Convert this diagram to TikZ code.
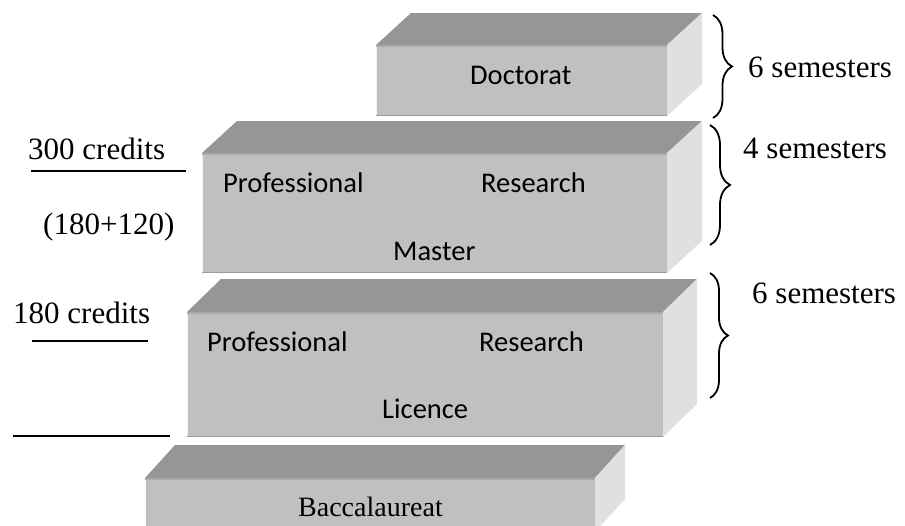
\documentclass[tikz,border=0pt]{standalone}
\usepackage{fontspec}
\setmainfont{Liberation Serif}
\newfontfamily\calib{Carlito}
\usetikzlibrary{decorations.pathreplacing}
\definecolor{topc}{HTML}{969696}
\definecolor{frontc}{HTML}{C0C0C0}
\definecolor{sidec}{HTML}{E0E0E0}
\definecolor{stripc}{HTML}{AAAAAA}
\definecolor{edgec}{HTML}{9C9C9C}
\newcommand\drawslab[6]{%
  \fill[topc] (#1,#2) -- ({#1+#5},{#2-#6}) -- ({#3+#5},{#2-#6}) -- (#3,#2) -- cycle;
  \fill[sidec] (#3,#2) -- ({#3+#5},{#2-#6}) -- ({#3+#5},{#4-#6}) -- (#3,#4) -- cycle;
  \fill[frontc] (#1,#2) rectangle (#3,#4);
  \draw[stripc, line width=2] (#1,{#2+1}) -- (#3,{#2+1});
  \draw[edgec, line width=1.5] (#1,{#4-0.75}) -- (#3,{#4-0.75});
  \draw[white!85!frontc, line width=1.2] ({#1+0.6},{#2+2}) -- ({#1+0.6},{#4-1.5});
}
\begin{document}
\begin{tikzpicture}[x=1pt,y=-1pt,
  boxtxt/.style={anchor=base west, inner sep=0pt, font=\calib\fontsize{28.5}{30}\selectfont},
  sidetxt/.style={anchor=base west, inner sep=0pt, font=\fontsize{31}{33}\selectfont},
  rule/.style={line width=1.5pt},
  bracestyle/.style={line width=1.8pt, decorate, decoration={brace, amplitude=#1}}]
\useasboundingbox (0,0) rectangle (905,525);
\fill[white] (0,0) rectangle (905,525);

\drawslab{376}{45}{667}{116}{35}{32}
\drawslab{202}{153}{667}{273}{35}{32}
\drawslab{187}{312}{663}{437}{34}{33}
\drawslab{145}{478}{595}{532}{30}{33}

\node[boxtxt] (doc) at (470,84) {Doctorat};
\node[boxtxt] (mprof) at (223,192) {Professional};
\node[boxtxt] (mres) at (481,192) {Research};
\node[boxtxt] (mast) at (393,260) {Master};
\node[boxtxt] (lprof) at (207,351) {Professional};
\node[boxtxt] (lres) at (479,351) {Research};
\node[boxtxt] (lic) at (382,418) {Licence};
\node[anchor=base west, inner sep=0pt, font=\fontsize{28}{30}\selectfont] (bac) at (298,516) {Baccalaureat};

\node[sidetxt] (c300) at (28,159) {300 credits};
\node[sidetxt] (c300b) at (43,234) {(180+120)};
\node[sidetxt] (c180) at (13,323) {180 credits};

\coordinate (l1a) at (31,171); \coordinate (l1b) at (186,171);
\coordinate (l2a) at (32,341); \coordinate (l2b) at (148,341);
\coordinate (l3a) at (13,436); \coordinate (l3b) at (170,436);
\draw[rule] (l1a) -- (l1b);
\draw[rule] (l2a) -- (l2b);
\draw[rule] (l3a) -- (l3b);

\node[sidetxt] (s6a) at (748,77) {6 semesters};
\node[sidetxt] (s4) at (743,158) {4 semesters};
\node[sidetxt] (s6b) at (752,303) {6 semesters};

\coordinate (b1a) at (713,15); \coordinate (b1b) at (713,118);
\coordinate (b2a) at (710,125); \coordinate (b2b) at (710,245);
\coordinate (b3a) at (710,273); \coordinate (b3b) at (710,398);
\draw[bracestyle=19] (b1a) -- (b1b);
\draw[bracestyle=20] (b2a) -- (b2b);
\draw[bracestyle=18] (b3a) -- (b3b);
\end{tikzpicture}
\end{document}
